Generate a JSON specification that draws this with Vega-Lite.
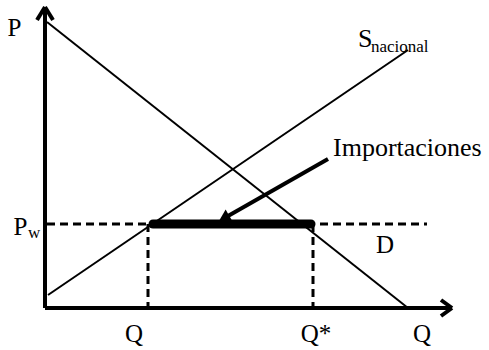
{
  "$schema": "https://vega.github.io/schema/vega-lite/v6.json",
  "width": 489,
  "height": 350,
  "padding": 0,
  "autosize": {"type": "none"},
  "background": "white",
  "config": {"view": {"stroke": null}},
  "datasets": {
    "axes": [
      {"q1": 0, "p1": 0, "q2": 0, "p2": 301},
      {"q1": 0, "p1": 0, "q2": 407, "p2": 0},
      {"q1": -8, "p1": 288, "q2": 0, "p2": 301},
      {"q1": 8, "p1": 288, "q2": 0, "p2": 301},
      {"q1": 396, "p1": 8, "q2": 407, "p2": 0},
      {"q1": 396, "p1": -8, "q2": 407, "p2": 0}
    ],
    "curves": [
      {"curve": "D", "q1": 2, "p1": 286, "q2": 363, "p2": 0},
      {"curve": "S", "q1": 3, "p1": 13, "q2": 363, "p2": 258}
    ],
    "dashed": [
      {"q1": 2, "p1": 84, "q2": 382, "p2": 84},
      {"q1": 103, "p1": 84, "q2": 103, "p2": 0},
      {"q1": 268, "p1": 84, "q2": 268, "p2": 0}
    ],
    "imports": [
      {"q1": 108, "p1": 84, "q2": 266, "p2": 84}
    ],
    "pointer": [
      {"q1": 283, "p1": 149, "q2": 183, "p2": 92}
    ],
    "head": [
      {"q": 179, "p": 90}
    ],
    "big": [
      {"label": "P", "q": -30.5, "p": 272},
      {"label": "P", "q": -24.5, "p": 73},
      {"label": "Q", "q": 89, "p": -34},
      {"label": "Q*", "q": 271, "p": -34},
      {"label": "Q", "q": 377, "p": -34},
      {"label": "D", "q": 340, "p": 55}
    ],
    "leftbig": [
      {"label": "S", "q": 313, "p": 261},
      {"label": "Importaciones", "q": 288, "p": 152}
    ],
    "small": [
      {"label": "w", "q": -17, "p": 70},
      {"label": "nacional", "q": 326, "p": 256}
    ]
  },
  "layer": [
    {
      "data": {"name": "axes"},
      "mark": {"type": "rule", "strokeWidth": 4, "color": "black", "strokeCap": "butt"},
      "encoding": {
        "x": {"field": "q1", "type": "quantitative", "scale": {"domain": [-45, 444], "nice": false, "zero": false}, "axis": null},
        "y": {"field": "p1", "type": "quantitative", "scale": {"domain": [-42, 308], "nice": false, "zero": false}, "axis": null},
        "x2": {"field": "q2"},
        "y2": {"field": "p2"}
      }
    },
    {
      "data": {"name": "curves"},
      "mark": {"type": "rule", "strokeWidth": 2, "color": "black"},
      "encoding": {
        "x": {"field": "q1", "type": "quantitative"},
        "y": {"field": "p1", "type": "quantitative"},
        "x2": {"field": "q2"},
        "y2": {"field": "p2"}
      }
    },
    {
      "data": {"name": "dashed"},
      "mark": {"type": "rule", "strokeWidth": 3, "color": "black", "strokeDash": [8, 5]},
      "encoding": {
        "x": {"field": "q1", "type": "quantitative"},
        "y": {"field": "p1", "type": "quantitative"},
        "x2": {"field": "q2"},
        "y2": {"field": "p2"}
      }
    },
    {
      "data": {"name": "imports"},
      "mark": {"type": "rule", "strokeWidth": 9, "color": "black", "strokeCap": "round"},
      "encoding": {
        "x": {"field": "q1", "type": "quantitative"},
        "y": {"field": "p1", "type": "quantitative"},
        "x2": {"field": "q2"},
        "y2": {"field": "p2"}
      }
    },
    {
      "data": {"name": "pointer"},
      "mark": {"type": "rule", "strokeWidth": 4, "color": "black"},
      "encoding": {
        "x": {"field": "q1", "type": "quantitative"},
        "y": {"field": "p1", "type": "quantitative"},
        "x2": {"field": "q2"},
        "y2": {"field": "p2"}
      }
    },
    {
      "data": {"name": "head"},
      "mark": {"type": "point", "shape": "triangle-up", "angle": 240, "size": 170, "filled": true, "color": "black", "opacity": 1},
      "encoding": {
        "x": {"field": "q", "type": "quantitative"},
        "y": {"field": "p", "type": "quantitative"}
      }
    },
    {
      "data": {"name": "big"},
      "mark": {"type": "text", "font": "Liberation Serif", "fontSize": 25, "align": "center", "baseline": "alphabetic"},
      "encoding": {
        "x": {"field": "q", "type": "quantitative"},
        "y": {"field": "p", "type": "quantitative"},
        "text": {"field": "label"},
        "color": {"value": "black"}
      }
    },
    {
      "data": {"name": "leftbig"},
      "mark": {"type": "text", "font": "Liberation Serif", "fontSize": 26, "align": "left", "baseline": "alphabetic"},
      "encoding": {
        "x": {"field": "q", "type": "quantitative"},
        "y": {"field": "p", "type": "quantitative"},
        "text": {"field": "label"},
        "color": {"value": "black"}
      }
    },
    {
      "data": {"name": "small"},
      "mark": {"type": "text", "font": "Liberation Serif", "fontSize": 17, "align": "left", "baseline": "alphabetic"},
      "encoding": {
        "x": {"field": "q", "type": "quantitative"},
        "y": {"field": "p", "type": "quantitative"},
        "text": {"field": "label"},
        "color": {"value": "black"}
      }
    }
  ]
}
